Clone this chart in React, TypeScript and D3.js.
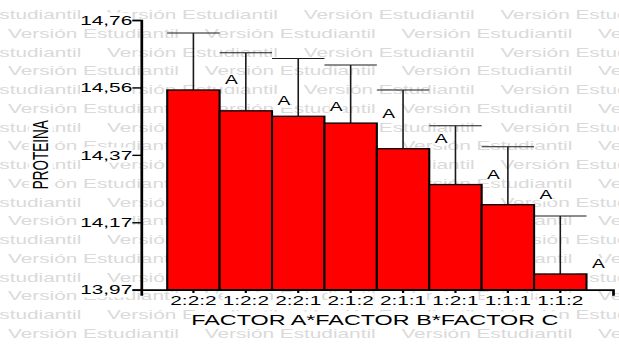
import React, { useEffect, useRef } from 'react';
import * as d3 from 'd3';

const categories = ['2:2:2', '1:2:2', '2:2:1', '2:1:2', '2:1:1', '1:2:1', '1:1:1', '1:1:2'];
const means = [14.555, 14.494, 14.478, 14.458, 14.383, 14.278, 14.219, 14.016];
const upper = [14.722, 14.664, 14.647, 14.628, 14.555, 14.45, 14.389, 14.186];
const letters = ['A', 'A', 'A', 'A', 'A', 'A', 'A', 'A'];
const yTicks = [13.97, 14.1675, 14.365, 14.5625, 14.76];
const yTickLabels = ['13,97', '14,17', '14,37', '14,56', '14,76'];

const W = 619;
const H = 346;
const SX = 1.6; // the original picture is stretched horizontally
const FONT = '"Liberation Sans", Arial, sans-serif';
const WATERMARK = 'Versión Estudiantil';

// put a white box behind each text, like the original labels have
function boxUnder(sel: d3.Selection<any, any, any, any>) {
  sel.each(function () {
    const node = this as SVGTextElement;
    const b = node.getBBox();
    const tr = node.getAttribute('transform');
    const r = document.createElementNS('http://www.w3.org/2000/svg', 'rect');
    r.setAttribute('x', String(b.x));
    r.setAttribute('y', String(b.y));
    r.setAttribute('width', String(b.width));
    r.setAttribute('height', String(b.height));
    r.setAttribute('fill', '#fff');
    if (tr) r.setAttribute('transform', tr);
    node.parentNode!.insertBefore(r, node);
  });
}

export default function App() {
  const ref = useRef<SVGSVGElement>(null);

  useEffect(() => {
    const svg = d3.select(ref.current);
    svg.selectAll('*').remove();

    svg.append('rect').attr('width', W).attr('height', H).attr('fill', '#fff');

    const g = svg.append('g').attr('transform', `scale(${SX},1)`);

    // watermark
    const wm = g.append('g')
      .attr('font-family', FONT)
      .attr('font-size', 13)
      .attr('fill', '#dadada');
    const period = 196.7 / SX;
    for (let i = 0; i < 18; i++) {
      const y0 = 19 + 18.76 * i;
      let x0 = (i % 2 === 0 ? -89.7 : 8) / SX;
      for (; x0 < W / SX; x0 += period) {
        wm.append('text').attr('x', x0).attr('y', y0).text(WATERMARK);
      }
    }

    const x = d3.scaleBand<string>()
      .domain(categories)
      .range([141 / SX, 612.7 / SX])
      .paddingInner(0)
      .paddingOuter(0.5);

    const y = d3.scaleLinear()
      .domain([13.97, 14.76])
      .range([289.7, 20]);

    const bw = x.bandwidth();

    // error bars
    const err = g.append('g').attr('stroke', '#1a1a1a').attr('stroke-width', 1);
    categories.forEach((c, i) => {
      const cx = x(c)! + bw / 2;
      err.append('line')
        .attr('x1', cx).attr('x2', cx)
        .attr('y1', y(means[i])).attr('y2', y(upper[i]));
      err.append('line')
        .attr('x1', x(c)!).attr('x2', x(c)! + bw)
        .attr('y1', y(upper[i])).attr('y2', y(upper[i]));
    });

    // bars
    g.append('g')
      .selectAll('rect')
      .data(categories)
      .enter().append('rect')
      .attr('x', (d) => x(d)!)
      .attr('y', (d, i) => y(means[i]))
      .attr('width', bw)
      .attr('height', (d, i) => y(13.97) - y(means[i]))
      .attr('fill', '#ff0000')
      .attr('stroke', '#000')
      .attr('stroke-width', 1.3);

    // letters
    const lab = g.append('g')
      .selectAll('text')
      .data(categories)
      .enter().append('text')
      .attr('x', (d) => x(d)! + bw / 2 + 38 / SX)
      .attr('y', (d, i) => y(means[i]) - 5.5)
      .attr('text-anchor', 'middle')
      .attr('font-family', FONT)
      .attr('font-size', 12)
      .attr('fill', '#000')
      .text((d, i) => letters[i]);
    boxUnder(lab);

    // axes
    const yAxis = g.append('g')
      .attr('transform', `translate(${141 / SX},0)`)
      .call(d3.axisLeft(y)
        .tickValues(yTicks)
        .tickFormat((d, i) => yTickLabels[i])
        .tickSizeInner(5.5)
        .tickSizeOuter(5.5)
        .tickPadding(0));

    const xAxis = g.append('g')
      .attr('transform', `translate(0,${y(13.97)})`)
      .call(d3.axisBottom(x)
        .tickSizeInner(6)
        .tickSizeOuter(6)
        .tickPadding(0));

    [yAxis, xAxis].forEach((a) => {
      a.attr('font-family', FONT).attr('font-size', 13);
      a.select('.domain').attr('stroke', '#000').attr('stroke-width', 1.7);
      a.selectAll('.tick line').attr('stroke', '#000').attr('stroke-width', 1.4);
      a.selectAll('.tick text').attr('fill', '#000');
      boxUnder(a.selectAll('.tick text'));
    });

    // titles
    const [r0, r1] = x.range();
    const xt = g.append('text')
      .attr('x', (r0 + r1) / 2 - 2 / SX)
      .attr('y', 325)
      .attr('text-anchor', 'middle')
      .attr('font-family', FONT)
      .attr('font-size', 14.6)
      .attr('fill', '#000')
      .text('FACTOR A*FACTOR B*FACTOR C');
    boxUnder(xt);

    const yt = g.append('text')
      .attr('transform', `translate(${48 / SX},${(y.range()[0] + y.range()[1]) / 2}) rotate(-90)`)
      .attr('text-anchor', 'middle')
      .attr('font-family', FONT)
      .attr('font-size', 13.5)
      .attr('fill', '#000')
      .text('PROTEINA');
    boxUnder(yt);
  }, []);

  return (
    <svg
      ref={ref}
      width={W}
      height={H}
      style={{ position: 'absolute', left: 0, top: 0, display: 'block' }}
    />
  );
}
